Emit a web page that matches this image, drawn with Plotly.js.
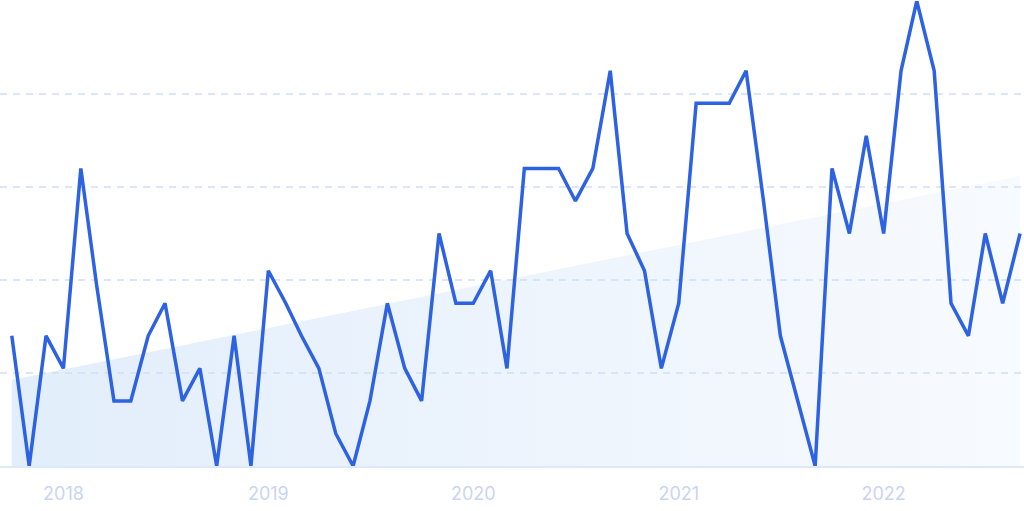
<!DOCTYPE html>
<html>
<head>
<meta charset="utf-8">
<script src="https://cdn.plot.ly/plotly-3.0.1.min.js"></script>
<style>
  html, body { margin: 0; padding: 0; background: #ffffff; }
  #chart { width: 1024px; height: 511px; }
</style>
</head>
<body>
<div id="chart"></div>
<script>
// Monthly dates, Oct 2017 - Sep 2022
const months = [
  '2017-10-01','2017-11-01','2017-12-01',
  '2018-01-01','2018-02-01','2018-03-01','2018-04-01','2018-05-01','2018-06-01','2018-07-01','2018-08-01','2018-09-01','2018-10-01','2018-11-01','2018-12-01',
  '2019-01-01','2019-02-01','2019-03-01','2019-04-01','2019-05-01','2019-06-01','2019-07-01','2019-08-01','2019-09-01','2019-10-01','2019-11-01','2019-12-01',
  '2020-01-01','2020-02-01','2020-03-01','2020-04-01','2020-05-01','2020-06-01','2020-07-01','2020-08-01','2020-09-01','2020-10-01','2020-11-01','2020-12-01',
  '2021-01-01','2021-02-01','2021-03-01','2021-04-01','2021-05-01','2021-06-01','2021-07-01','2021-08-01','2021-09-01','2021-10-01','2021-11-01','2021-12-01',
  '2022-01-01','2022-02-01','2022-03-01','2022-04-01','2022-05-01','2022-06-01','2022-07-01','2022-08-01','2022-09-01'
];

// Relative interest (0-100)
const interest = [
  28, 0, 28,
  21, 64, 39, 14, 14, 28, 35, 14, 21, 0, 28, 0,
  42, 35, 28, 21, 7, 0, 14, 35, 21, 14, 50, 35,
  35, 42, 21, 64, 64, 64, 57, 64, 85, 50, 42, 21,
  35, 78, 78, 78, 85, 57, 28, 14, 0, 64, 50, 71,
  50, 85, 100, 85, 35, 28, 50, 35, 50
];

// Trend line (start, end)
const trendDates = ['2017-10-01', '2022-09-01'];
const trendValues = [18.5, 62.4];

// Year ticks
const tickDates = ['2018-01-01','2019-01-01','2020-01-01','2021-01-01','2022-01-01'];
const tickLabels = ['2018','2019','2020','2021','2022'];

const trendTrace = {
  x: trendDates,
  y: trendValues,
  type: 'scatter',
  mode: 'lines',
  line: { width: 0, color: 'rgba(0,0,0,0)' },
  fill: 'tozeroy',
  fillgradient: {
    type: 'horizontal',
    colorscale: [[0, 'rgba(205,225,248,0.58)'], [1, 'rgba(205,225,248,0.15)']]
  },
  hoverinfo: 'skip',
  showlegend: false
};

const lineTrace = {
  x: months,
  y: interest,
  type: 'scatter',
  mode: 'lines',
  line: { color: '#2d62e3', width: 3.5, shape: 'linear' },
  showlegend: false
};

const layout = {
  width: 1024,
  height: 511,
  margin: { l: 0, r: 0, t: 1, b: 45 },
  paper_bgcolor: '#ffffff',
  plot_bgcolor: '#ffffff',
  font: { family: 'Inter, Roboto, sans-serif' },
  xaxis: {
    type: 'date',
    range: ['2017-09-10', '2022-09-08'],
    tickmode: 'array',
    tickvals: tickDates,
    ticktext: tickLabels,
    showgrid: false,
    zeroline: false,
    showline: true,
    linecolor: '#dde8fa',
    linewidth: 2,
    ticks: '',
    ticklabelstandoff: 10,
    tickfont: { size: 18, color: '#c9d5f3', family: 'Inter, Roboto, sans-serif' },
    fixedrange: true
  },
  yaxis: {
    range: [0, 100],
    tickmode: 'array',
    tickvals: [20, 40, 60, 80, 100],
    showticklabels: false,
    showgrid: true,
    gridcolor: '#dbe5fb',
    gridwidth: 1.2,
    griddash: '7px,6px',
    zeroline: false,
    showline: false,
    fixedrange: true
  }
};

Plotly.newPlot('chart', [trendTrace, lineTrace], layout, { displayModeBar: false, staticPlot: true });
</script>
</body>
</html>
